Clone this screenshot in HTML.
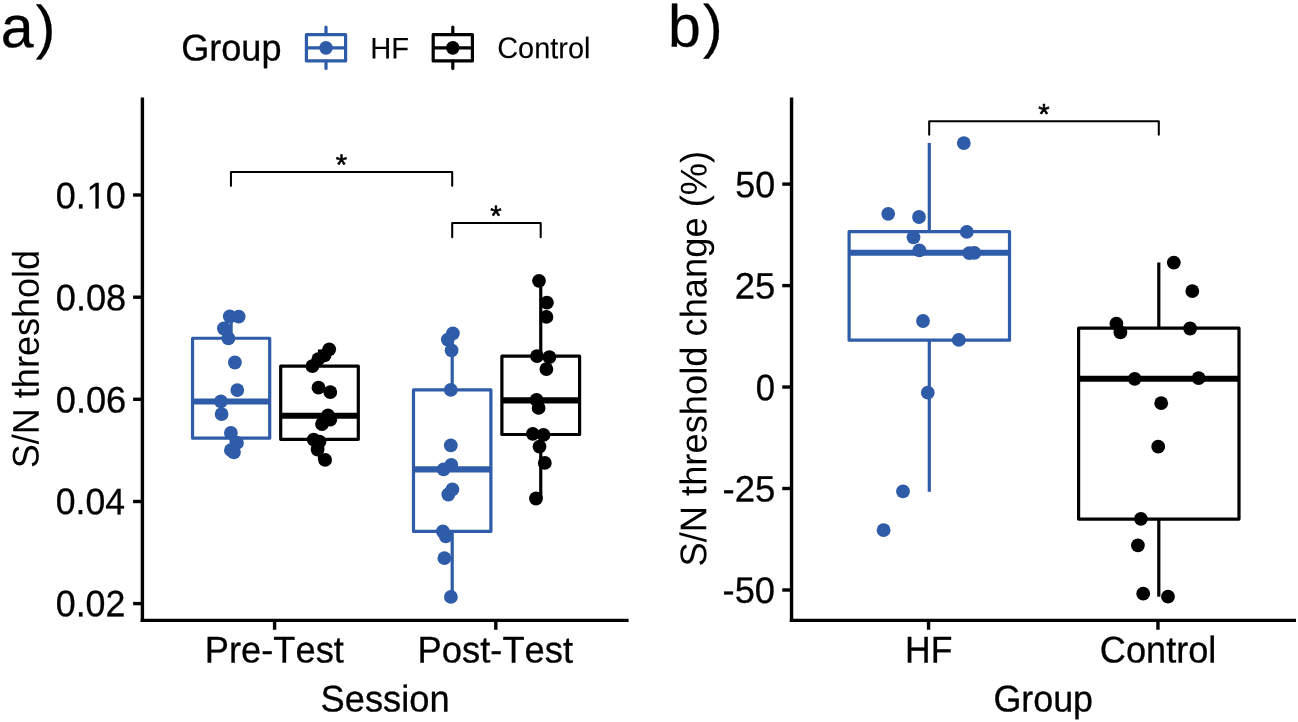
<!DOCTYPE html>
<html lang="en">
<head>
<meta charset="utf-8">
<title>S/N threshold by session and group</title>
<style>
html,body{margin:0;padding:0;background:#ffffff;}
body{width:1298px;height:722px;overflow:hidden;}
svg{display:block;}
text{font-family:'Liberation Sans', sans-serif;fill:#000000;font-kerning:none;text-rendering:geometricPrecision;stroke:#000000;stroke-width:0.3px;stroke-linejoin:round;}
text.r{stroke:none;}
text.lg{stroke-width:0.1px;}
text.st{stroke-width:0.6px;}
</style>
</head>
<body>
<svg width="1298" height="722" viewBox="0 0 1298 722" role="img" aria-label="Box plots of S/N threshold by session and group">
<rect x="0" y="0" width="1298" height="722" fill="#ffffff"/>
<!-- panel a -->
<text transform="translate(0.69 47.3) skewY(0.05)" font-size="59.0">a<tspan dx="2.3">)</tspan></text>
<text transform="translate(181.18 60.5) skewY(0.05) scale(0.9704 1)" font-size="37.2">Group</text>
<g stroke="#2F5CA8" fill="none" stroke-width="3.2" stroke-linejoin="round" stroke-linecap="round">
<line x1="326" y1="27" x2="326" y2="34.55"/>
<line x1="326" y1="60.9" x2="326" y2="68.4"/>
<rect x="306.4" y="34.55" width="39.2" height="26.35"/>
<line x1="306.4" y1="47.85" x2="345.6" y2="47.85" stroke-linecap="butt"/>
<circle cx="326" cy="47.85" r="6.8" fill="#2F5CA8" stroke="none"/>
</g>
<text transform="translate(370.31 58.6) skewY(0.05) scale(0.978 1)" font-size="29.8" class="lg">HF</text>
<g stroke="#000000" fill="none" stroke-width="3.2" stroke-linejoin="round" stroke-linecap="round">
<line x1="452.8" y1="27" x2="452.8" y2="34.55"/>
<line x1="452.8" y1="60.9" x2="452.8" y2="68.4"/>
<rect x="433.2" y="34.55" width="39.2" height="26.35"/>
<line x1="433.2" y1="47.85" x2="472.4" y2="47.85" stroke-linecap="butt"/>
<circle cx="452.8" cy="47.85" r="6.8" fill="#000000" stroke="none"/>
</g>
<text transform="translate(497.23 58.1) skewY(0.05) scale(0.9697 1)" font-size="29.8" class="lg">Control</text>
<line x1="142.4" y1="97.5" x2="142.4" y2="622.05" stroke="#000000" stroke-width="3.4"/>
<line x1="140.7" y1="620.35" x2="628.6" y2="620.35" stroke="#000000" stroke-width="3.4"/>
<line x1="133.1" y1="195" x2="142.4" y2="195" stroke="#000000" stroke-width="3.4"/>
<g transform="translate(55.75 208.27) skewY(0.05) scale(0.9767 1)"><text font-size="36.8">0.<tspan dx="0.7">1</tspan><tspan dx="-0.7">0</tspan></text><rect x="32.47" y="-3.35" width="8.08" height="4.75" fill="#ffffff"/><rect x="44" y="-3.35" width="6.98" height="4.75" fill="#ffffff"/></g>
<line x1="133.1" y1="297.2" x2="142.4" y2="297.2" stroke="#000000" stroke-width="3.4"/>
<text transform="translate(55.74 310.27) skewY(0.05) scale(0.9842 1)" font-size="36.8">0.08</text>
<line x1="133.1" y1="399.3" x2="142.4" y2="399.3" stroke="#000000" stroke-width="3.4"/>
<text transform="translate(55.73 412.51) skewY(0.05) scale(0.9844 1)" font-size="36.8">0.06</text>
<line x1="133.1" y1="501.5" x2="142.4" y2="501.5" stroke="#000000" stroke-width="3.4"/>
<text transform="translate(55.76 514.1) skewY(0.05) scale(0.9666 1)" font-size="36.8">0.04</text>
<line x1="133.1" y1="603.6" x2="142.4" y2="603.6" stroke="#000000" stroke-width="3.4"/>
<text transform="translate(55.75 616.31) skewY(0.05) scale(0.9726 1)" font-size="36.8">0.02</text>
<line x1="274.6" y1="620.35" x2="274.6" y2="629.75" stroke="#000000" stroke-width="3.4"/>
<text transform="translate(204.83 662.5) skewY(0.05) scale(0.9749 1)" font-size="37.2">Pre-Test</text>
<line x1="495.8" y1="620.35" x2="495.8" y2="629.75" stroke="#000000" stroke-width="3.4"/>
<text transform="translate(417.62 662.5) skewY(0.05) scale(0.9766 1)" font-size="37.2">Post-Test</text>
<text transform="translate(38.6 468.33) rotate(-90) skewY(0.05) scale(0.9697 1)" font-size="37.2" class="r">S/N threshold</text>
<text transform="translate(320.6 711.4) skewY(0.05) scale(0.9747 1)" font-size="37.2">Session</text>
<g stroke="#2F5CA8" fill="none" stroke-width="3.2" stroke-linejoin="round">
<line x1="231.12" y1="316.5" x2="231.12" y2="338.25"/>
<line x1="231.12" y1="438.2" x2="231.12" y2="453"/>
<rect x="192.55" y="338.25" width="77.15" height="99.95" fill="#ffffff"/>
<line x1="192.55" y1="401.45" x2="269.7" y2="401.45" stroke-width="6.1"/>
</g>
<g fill="#2F5CA8">
<circle cx="229.8" cy="316.5" r="6.9"/>
<circle cx="238.7" cy="316.6" r="6.9"/>
<circle cx="223.9" cy="328.5" r="6.9"/>
<circle cx="228.4" cy="338.4" r="6.9"/>
<circle cx="234.9" cy="362.5" r="6.9"/>
<circle cx="237.3" cy="390.1" r="6.9"/>
<circle cx="220.9" cy="401.3" r="6.9"/>
<circle cx="221.6" cy="414.1" r="6.9"/>
<circle cx="230.9" cy="432.9" r="6.9"/>
<circle cx="237" cy="442.9" r="6.9"/>
<circle cx="230.9" cy="450.2" r="6.9"/>
<circle cx="233.9" cy="452.4" r="6.9"/>
</g>
<g stroke="#000000" fill="none" stroke-width="3.2" stroke-linejoin="round">
<line x1="319.5" y1="349.5" x2="319.5" y2="366.1"/>
<line x1="319.5" y1="439.3" x2="319.5" y2="460"/>
<rect x="280.7" y="366.1" width="77.6" height="73.2" fill="#ffffff"/>
<line x1="280.7" y1="415.8" x2="358.3" y2="415.8" stroke-width="6.1"/>
</g>
<g fill="#000000">
<circle cx="329.2" cy="349.3" r="6.9"/>
<circle cx="324.5" cy="355.4" r="6.9"/>
<circle cx="318.3" cy="359.1" r="6.9"/>
<circle cx="312.4" cy="366.2" r="6.9"/>
<circle cx="318.5" cy="387.7" r="6.9"/>
<circle cx="330.3" cy="392.1" r="6.9"/>
<circle cx="328" cy="415.4" r="6.9"/>
<circle cx="330.3" cy="419.5" r="6.9"/>
<circle cx="322" cy="424.1" r="6.9"/>
<circle cx="313.7" cy="439.6" r="6.9"/>
<circle cx="319.5" cy="441.6" r="6.9"/>
<circle cx="317.6" cy="449.5" r="6.9"/>
<circle cx="325.1" cy="459.9" r="6.9"/>
</g>
<g stroke="#2F5CA8" fill="none" stroke-width="3.2" stroke-linejoin="round">
<line x1="452.2" y1="333.5" x2="452.2" y2="389.9"/>
<line x1="452.2" y1="531.3" x2="452.2" y2="596.9"/>
<rect x="413.5" y="389.9" width="77.4" height="141.4" fill="#ffffff"/>
<line x1="413.5" y1="469.4" x2="490.9" y2="469.4" stroke-width="6.1"/>
</g>
<g fill="#2F5CA8">
<circle cx="452.9" cy="333.3" r="6.9"/>
<circle cx="447.8" cy="339.6" r="6.9"/>
<circle cx="451.6" cy="350.3" r="6.9"/>
<circle cx="450.8" cy="389.9" r="6.9"/>
<circle cx="450.8" cy="445.4" r="6.9"/>
<circle cx="451.3" cy="464.9" r="6.9"/>
<circle cx="443.6" cy="469.4" r="6.9"/>
<circle cx="452.4" cy="489.4" r="6.9"/>
<circle cx="448.3" cy="494.5" r="6.9"/>
<circle cx="442.9" cy="531.3" r="6.9"/>
<circle cx="445.8" cy="536.3" r="6.9"/>
<circle cx="444.4" cy="558.2" r="6.9"/>
<circle cx="450.9" cy="596.9" r="6.9"/>
</g>
<g stroke="#000000" fill="none" stroke-width="3.2" stroke-linejoin="round">
<line x1="540.75" y1="280.8" x2="540.75" y2="356.2"/>
<line x1="540.75" y1="434.5" x2="540.75" y2="498.5"/>
<rect x="501.9" y="356.2" width="77.7" height="78.3" fill="#ffffff"/>
<line x1="501.9" y1="400.4" x2="579.6" y2="400.4" stroke-width="6.1"/>
</g>
<g fill="#000000">
<circle cx="539" cy="280.8" r="6.9"/>
<circle cx="546.9" cy="302.7" r="6.9"/>
<circle cx="546.4" cy="316.9" r="6.9"/>
<circle cx="537" cy="356.2" r="6.9"/>
<circle cx="549.4" cy="357.1" r="6.9"/>
<circle cx="546.4" cy="369.1" r="6.9"/>
<circle cx="536.5" cy="399.9" r="6.9"/>
<circle cx="538.6" cy="407.9" r="6.9"/>
<circle cx="532.8" cy="433.8" r="6.9"/>
<circle cx="543.5" cy="434.9" r="6.9"/>
<circle cx="539.5" cy="446.6" r="6.9"/>
<circle cx="544.8" cy="462.9" r="6.9"/>
<circle cx="536" cy="498.5" r="6.9"/>
</g>
<path d="M230.95 185.85V172H452.2V185.85" fill="none" stroke="#000000" stroke-width="2.05" stroke-linejoin="round" stroke-linecap="round"/>
<text transform="translate(341.3 174.5) skewY(0.05)" font-size="29.2" text-anchor="middle" class="st">*</text>
<path d="M452.2 237.2V222.95H540.7V237.2" fill="none" stroke="#000000" stroke-width="2.05" stroke-linejoin="round" stroke-linecap="round"/>
<text transform="translate(496 225.85) skewY(0.05)" font-size="29.2" text-anchor="middle" class="st">*</text>
<!-- panel b -->
<text transform="translate(668 46.4) skewY(0.05)" font-size="59.0">b<tspan dx="2.2">)</tspan></text>
<line x1="791.55" y1="97.5" x2="791.55" y2="622.05" stroke="#000000" stroke-width="3.4"/>
<line x1="789.85" y1="620.35" x2="1296" y2="620.35" stroke="#000000" stroke-width="3.4"/>
<line x1="782.25" y1="184.1" x2="791.55" y2="184.1" stroke="#000000" stroke-width="3.4"/>
<text transform="translate(735.22 197.31) skewY(0.05) scale(0.9731 1)" font-size="36.8">50</text>
<line x1="782.25" y1="285.6" x2="791.55" y2="285.6" stroke="#000000" stroke-width="3.4"/>
<text transform="translate(734.82 298.51) skewY(0.05) scale(0.991 1)" font-size="36.8">25</text>
<line x1="782.25" y1="387.05" x2="791.55" y2="387.05" stroke="#000000" stroke-width="3.4"/>
<text transform="translate(755.75 400.14) skewY(0.05) scale(0.9408 1)" font-size="36.8">0</text>
<line x1="782.25" y1="488.5" x2="791.55" y2="488.5" stroke="#000000" stroke-width="3.4"/>
<text transform="translate(722.58 501.45) skewY(0.05) scale(0.9929 1)" font-size="36.8">-25</text>
<line x1="782.25" y1="590" x2="791.55" y2="590" stroke="#000000" stroke-width="3.4"/>
<text transform="translate(722.59 602.86) skewY(0.05) scale(0.9867 1)" font-size="36.8">-50</text>
<line x1="928.55" y1="620.35" x2="928.55" y2="629.75" stroke="#000000" stroke-width="3.4"/>
<text transform="translate(904.99 662.5) skewY(0.05) scale(0.9546 1)" font-size="37.2">HF</text>
<line x1="1157.95" y1="620.35" x2="1157.95" y2="629.75" stroke="#000000" stroke-width="3.4"/>
<text transform="translate(1099.86 662.5) skewY(0.05) scale(0.9719 1)" font-size="37.2">Control</text>
<text transform="translate(706.3 566.55) rotate(-90) skewY(0.05) scale(0.9764 1)" font-size="37.2" class="r">S/N threshold change (%)</text>
<text transform="translate(993.4 711.4) skewY(0.05) scale(0.9639 1)" font-size="37.2">Group</text>
<g stroke="#2F5CA8" fill="none" stroke-width="3.2" stroke-linejoin="round">
<line x1="929.3" y1="142.9" x2="929.3" y2="231.6"/>
<line x1="929.3" y1="340.2" x2="929.3" y2="491.8"/>
<rect x="849.1" y="231.6" width="160.4" height="108.6" fill="#ffffff"/>
<line x1="849.1" y1="252.7" x2="1009.5" y2="252.7" stroke-width="6.1"/>
</g>
<g fill="#2F5CA8">
<circle cx="963.8" cy="143.1" r="6.9"/>
<circle cx="888.2" cy="213.8" r="6.9"/>
<circle cx="919" cy="217" r="6.9"/>
<circle cx="966.8" cy="231.9" r="6.9"/>
<circle cx="913.5" cy="237.3" r="6.9"/>
<circle cx="919.4" cy="250.4" r="6.9"/>
<circle cx="969.3" cy="253.2" r="6.9"/>
<circle cx="974.4" cy="252.9" r="6.9"/>
<circle cx="923" cy="321" r="6.9"/>
<circle cx="958.8" cy="339.9" r="6.9"/>
<circle cx="927.8" cy="392.7" r="6.9"/>
<circle cx="903" cy="491.4" r="6.9"/>
<circle cx="883.6" cy="530.2" r="6.9"/>
</g>
<g stroke="#000000" fill="none" stroke-width="3.2" stroke-linejoin="round">
<line x1="1158.8" y1="262.5" x2="1158.8" y2="328.2"/>
<line x1="1158.8" y1="519.1" x2="1158.8" y2="596.7"/>
<rect x="1078.6" y="328.2" width="160.4" height="190.9" fill="#ffffff"/>
<line x1="1078.6" y1="378.8" x2="1239" y2="378.8" stroke-width="6.1"/>
</g>
<g fill="#000000">
<circle cx="1173.8" cy="262.6" r="6.9"/>
<circle cx="1192.3" cy="291.1" r="6.9"/>
<circle cx="1116.4" cy="323.7" r="6.9"/>
<circle cx="1120.4" cy="332.4" r="6.9"/>
<circle cx="1190.1" cy="328.5" r="6.9"/>
<circle cx="1134.7" cy="378.8" r="6.9"/>
<circle cx="1198.6" cy="378.1" r="6.9"/>
<circle cx="1161.2" cy="403.2" r="6.9"/>
<circle cx="1158.2" cy="446.7" r="6.9"/>
<circle cx="1140.9" cy="518.8" r="6.9"/>
<circle cx="1137.9" cy="545.3" r="6.9"/>
<circle cx="1143.2" cy="593.7" r="6.9"/>
<circle cx="1168" cy="596.7" r="6.9"/>
</g>
<path d="M929.2 134.8V121.3H1158.8V134.8" fill="none" stroke="#000000" stroke-width="2.05" stroke-linejoin="round" stroke-linecap="round"/>
<text transform="translate(1043.8 123.9) skewY(0.05)" font-size="29.2" text-anchor="middle" class="st">*</text>
</svg>
</body>
</html>
